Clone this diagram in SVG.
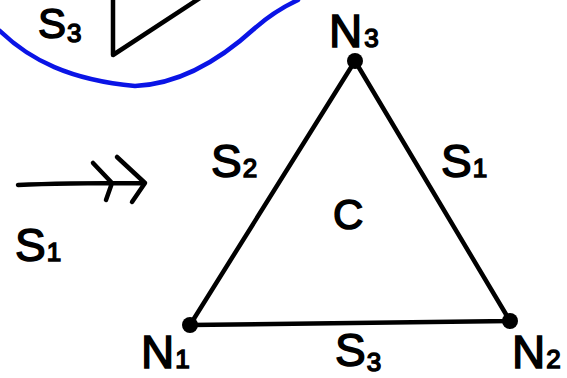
<svg xmlns="http://www.w3.org/2000/svg" width="567" height="378" viewBox="0 0 567 378">
<style>
.ln{fill:none;stroke:#000;stroke-width:4.5;stroke-linecap:round;stroke-linejoin:round}
.bl{fill:none;stroke:#0a14e6;stroke-width:4.5;stroke-linecap:round;stroke-linejoin:round}
.t{font-family:"Liberation Sans","DejaVu Sans",sans-serif;fill:#000;stroke:#000;stroke-width:1.5}
.big{font-size:46px}
.sub{font-size:26px}
</style>
<rect width="567" height="378" fill="#fff"/>
<g id="connectors">
<path class="bl" d="M0,31 C30,60 70,80 135,86 C180,84 220,60 255,28 C270,15 285,6 298,0"/>
<path class="ln" d="M113,-2 L113,55 L200,-2"/>
<path class="ln" d="M355,61 L190,325 L510,321 Z"/>
<path class="ln" d="M18,185 C60,183 100,183 145,183 M93,163 L112,183 L106,200 M117,157 L145,183 L132,202"/>
</g>
<g id="N3"><circle cx="355" cy="61" r="8"/><text class="t big" x="329" y="47">N<tspan class="sub" dx="2">3</tspan></text></g>
<g id="N1"><circle cx="190" cy="325" r="8"/><text class="t big" x="141" y="368">N<tspan class="sub" dx="1">1</tspan></text></g>
<g id="N2"><circle cx="510" cy="321" r="8"/><text class="t big" x="512" y="368">N<tspan class="sub" dx="1">2</tspan></text></g>
<g id="C"><text class="t" x="333" y="229" font-size="42">C</text></g>
<g id="labels">
<text class="t" x="38" y="38" font-size="42">S<tspan class="sub" dx="1" dy="4">3</tspan></text>
<text class="t big" x="211" y="177">S<tspan class="sub" dx="1">2</tspan></text>
<text class="t big" x="441" y="177">S<tspan class="sub" dx="1">1</tspan></text>
<text class="t big" x="15" y="261">S<tspan class="sub" dx="1">1</tspan></text>
<text class="t big" x="335" y="366">S<tspan class="sub" dx="1" dy="5">3</tspan></text>
</g>
</svg>
